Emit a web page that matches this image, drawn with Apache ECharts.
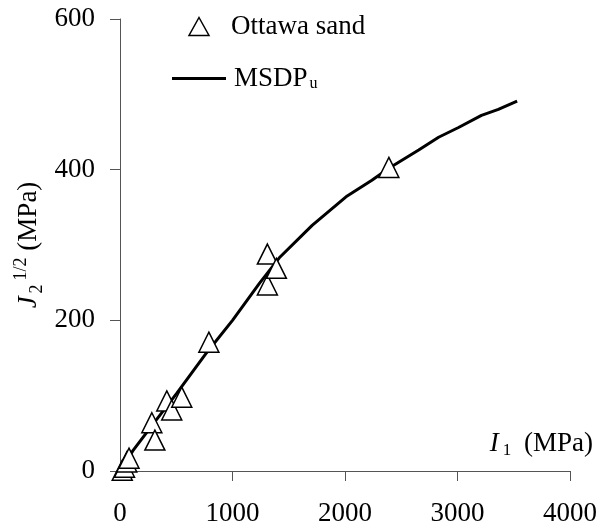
<!DOCTYPE html>
<html>
<head>
<meta charset="utf-8">
<script src="https://cdn.jsdelivr.net/npm/echarts@6/dist/echarts.min.js"></script>
<style>
  html, body { margin: 0; padding: 0; background: #fff; }
  #chart { width: 600px; height: 531px; }
</style>
</head>
<body>
<div id="chart"></div>
<script>
// measured points, I1 (MPa) vs J2^(1/2) (MPa)
const sandI1 = [20, 40, 60, 80, 283, 310, 416, 460, 549, 790, 1310, 1310, 1390, 2390];
const sandJ2 = [1, 5, 12, 17, 64, 41, 93, 81, 98, 171, 247, 288, 269, 403];

// MSDPu curve
const curveI1 = [0, 115, 292, 504, 770, 1000, 1239, 1416, 1708, 2009, 2239, 2390, 2655, 2832, 3009, 3213, 3363, 3530];
const curveJ2 = [0, 27, 62, 103, 157, 200, 249, 283, 326, 364, 386, 402, 426, 443, 456, 472, 480, 491];

const xTicks = [0, 1000, 2000, 3000, 4000];
const yTicks = [0, 200, 400, 600];

const font = 'Liberation Serif';
const chart = echarts.init(document.getElementById('chart'));

const option = {
  animation: false,
  textStyle: { fontFamily: font, color: '#000' },
  grid: { left: 120, right: 28, top: 19, bottom: 60 },
  legend: {
    orient: 'vertical',
    left: 167,
    top: 8,
    itemWidth: 54,
    itemHeight: 18,
    itemGap: 25,
    symbolKeepAspect: true,
    textStyle: { fontFamily: font, fontSize: 27, color: '#000', lineHeight: 26 },
    formatter: function (name) {
      if (name === 'MSDPu') return '{m|MSDP}{s|u}';
      return '{o|' + name + '}';
    },
    data: [
      {
        name: 'Ottawa sand',
        icon: 'path://M10,0 L20,18 L0,18 Z',
        itemStyle: { color: '#fff', borderColor: '#000', borderWidth: 1.5 }
      },
      {
        name: 'MSDPu',
        icon: 'path://M0,0 L54,0 L54,3 L0,3 Z',
        itemStyle: { color: '#000', borderWidth: 0 }
      }
    ]
  },
  xAxis: {
    type: 'value',
    min: xTicks[0],
    max: xTicks[xTicks.length - 1],
    interval: 1000,
    axisLine: { onZero: false, lineStyle: { color: '#555', width: 1 } },
    axisTick: { length: 10, lineStyle: { color: '#555' } },
    splitLine: { show: false },
    axisLabel: { fontFamily: font, fontSize: 27, color: '#000', margin: 29, formatter: v => String(v) },
    name: '{i|I}{s|1}{t| (MPa)}',
    nameLocation: 'end',
    nameGap: 23,
    nameTextStyle: {
      align: 'right',
      verticalAlign: 'bottom',
      padding: [0, 0, 12, 0],
      rich: {
        i: { fontFamily: font, fontSize: 27, fontStyle: 'italic', color: '#000', lineHeight: 30 },
        s: { fontFamily: font, fontSize: 17, color: '#000', verticalAlign: 'bottom', lineHeight: 17, padding: [0, 6, 0, 4] },
        t: { fontFamily: font, fontSize: 27, color: '#000', lineHeight: 30 }
      }
    }
  },
  yAxis: {
    type: 'value',
    min: yTicks[0],
    max: yTicks[yTicks.length - 1],
    interval: 200,
    axisLine: { show: true, onZero: false, lineStyle: { color: '#555', width: 1 } },
    axisTick: { show: true, length: 10, lineStyle: { color: '#555' } },
    splitLine: { show: false },
    axisLabel: { fontFamily: font, fontSize: 27, color: '#000', margin: 25, formatter: v => String(v) },
    name: '{i|J}{s|2}{p|1/2}{t| (MPa)}',
    nameLocation: 'middle',
    nameGap: 74,
    nameMoveOverlap: false,
    nameTextStyle: {
      rich: {
        i: { fontFamily: font, fontSize: 27, fontStyle: 'italic', color: '#000', lineHeight: 34 },
        s: { fontFamily: font, fontSize: 18, color: '#000', verticalAlign: 'bottom', lineHeight: 18, padding: [0, 4, 0, 3] },
        p: { fontFamily: font, fontSize: 18, color: '#000', verticalAlign: 'top', lineHeight: 18 },
        t: { fontFamily: font, fontSize: 27, color: '#000', lineHeight: 34 }
      }
    }
  },
  series: [
    {
      name: 'MSDPu',
      type: 'line',
      data: curveI1.map((x, i) => [x, curveJ2[i]]),
      symbol: 'none',
      smooth: false,
      lineStyle: { color: '#000', width: 3 },
      itemStyle: { color: '#000' },
      z: 2
    },
    {
      name: 'Ottawa sand',
      type: 'scatter',
      data: sandI1.map((x, i) => [x, sandJ2[i]]),
      symbol: 'triangle',
      symbolSize: 20,
      clip: false,
      itemStyle: { color: '#fff', borderColor: '#000', borderWidth: 1.5, opacity: 1 },
      z: 3
    }
  ]
};

// legend rich styles
option.legend.textStyle.rich = {
  o: { fontFamily: font, fontSize: 27, color: '#000', padding: [0, 0, 0, 0] },
  m: { fontFamily: font, fontSize: 27, color: '#000', padding: [0, 0, 0, 3] },
  s: { fontFamily: font, fontSize: 16, color: '#000', verticalAlign: 'bottom', lineHeight: 16, padding: [0, 0, 0, 2] }
};

chart.setOption(option);
</script>
</body>
</html>
